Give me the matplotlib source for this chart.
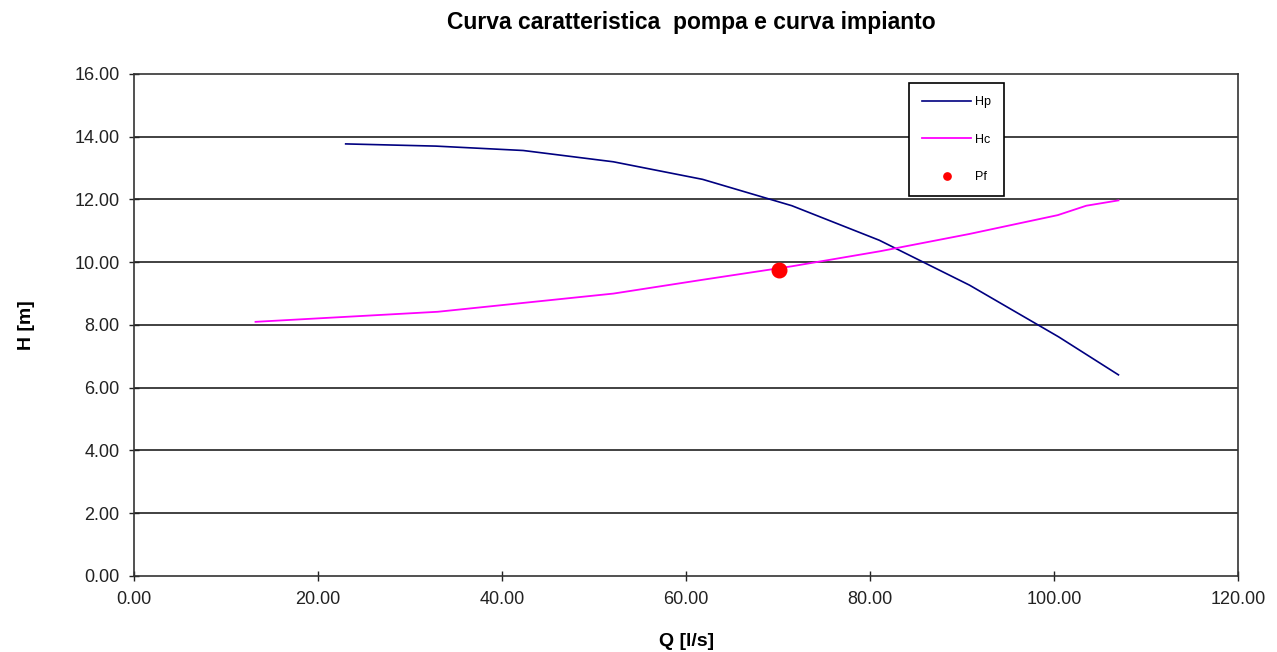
import numpy as np
from matplotlib import pyplot as plt

# portate [l/s] e prevalenze [m]
q_pompa = [23.0, 32.8, 42.3, 52.1, 61.8, 71.5, 81.0, 90.8, 100.5, 107.0]
h_pompa = [13.77, 13.70, 13.56, 13.20, 12.64, 11.80, 10.70, 9.27, 7.62, 6.41]

q_impianto = [13.2, 33.0, 52.1, 61.8, 71.5, 81.1, 90.8, 100.4, 103.5, 107.0]
h_impianto = [8.10, 8.42, 9.00, 9.44, 9.87, 10.35, 10.90, 11.50, 11.80, 11.97]

q_pf = [70.1]
h_pf = [9.75]

x_ticks = [0, 20, 40, 60, 80, 100, 120]
y_ticks = [0, 2, 4, 6, 8, 10, 12, 14, 16]

plt.rcParams['font.family'] = ['Liberation Sans', 'DejaVu Sans']

fig = plt.figure(figsize=(12.77, 6.52), dpi=100)
ax = fig.add_axes([0.105, 0.1166, 0.8645, 0.77])

for y in y_ticks[1:-1]:
    ax.axhline(y, color='#333333', lw=1.3, zorder=1)

ax.plot(q_pompa, h_pompa, color='#000080', lw=1.2, label='Hp', zorder=3)
ax.plot(q_impianto, h_impianto, color='#FF00FF', lw=1.3, label='Hc', zorder=3)
ax.plot(q_pf, h_pf, 'o', color='#FF0000', ms=10.5, label='Pf', zorder=4)

ax.set_xlim(0, 120)
ax.set_ylim(0, 16)
ax.set_xticks(x_ticks)
ax.set_yticks(y_ticks)
ax.set_xticklabels([f'{v:.2f}' for v in x_ticks], fontsize=13)
ax.set_yticklabels([f'{v:.2f}' for v in y_ticks], fontsize=13)
ax.tick_params(direction='inout', length=7, width=1, pad=7, colors='#222222')
for s in ax.spines.values():
    s.set_color('#333333')
    s.set_linewidth(1.2)

ax.set_xlabel('Q [l/s]', fontsize=14, fontweight='bold', labelpad=18)
ax.set_ylabel('H [m]', fontsize=14, fontweight='bold', labelpad=28)
fig.text(0.541, 0.965, 'Curva caratteristica  pompa e curva impianto',
         fontsize=16.5, fontweight='bold', ha='center', va='center')

leg = ax.legend(loc='upper left', bbox_to_anchor=(0.702, 0.982), fontsize=9,
                frameon=True, fancybox=False, labelspacing=2.05,
                handlelength=3.9, handletextpad=0.3, borderpad=1.05,
                markerscale=0.5, borderaxespad=0)
leg.get_frame().set_edgecolor('black')
leg.get_frame().set_linewidth(1.2)
leg.get_frame().set_alpha(1)

fig.savefig('out.png', dpi=100)
